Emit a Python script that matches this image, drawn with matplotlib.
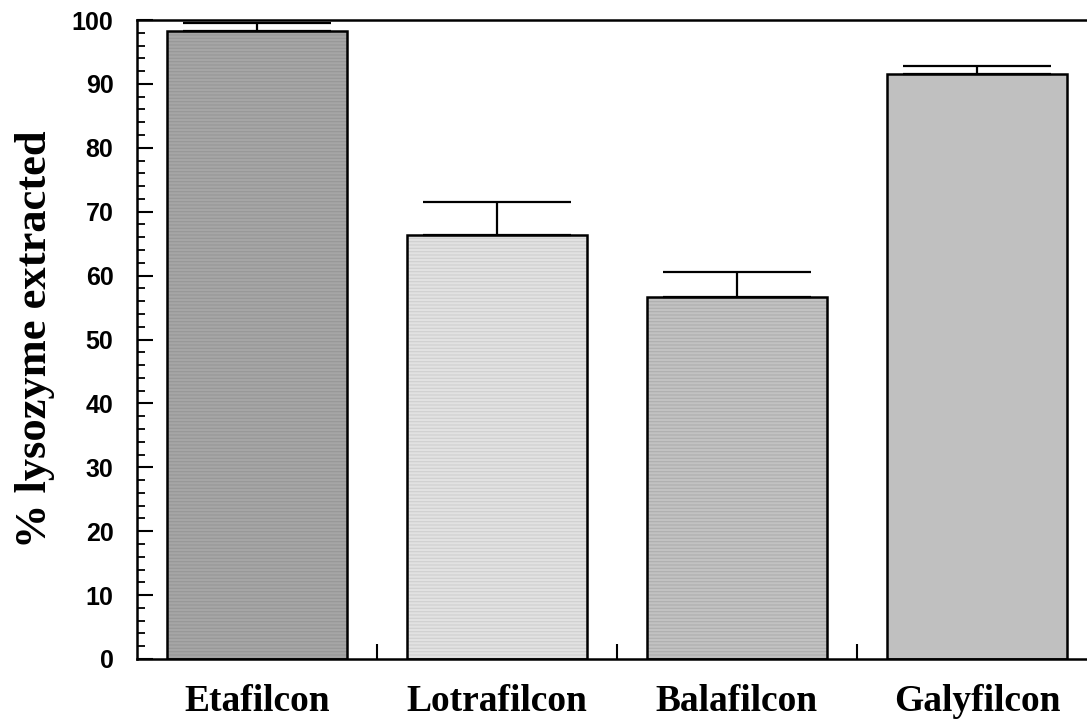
import numpy as np
import matplotlib.pyplot as plt
from matplotlib.ticker import MultipleLocator

# lens materials and % lysozyme extracted (mean, upper SD)
lenses = ['Etafilcon', 'Lotrafilcon', 'Balafilcon', 'Galyfilcon']
extracted = [98.3, 66.4, 56.7, 91.5]
sd = [1.2, 5.1, 3.9, 1.3]

face = ['#a6a6a6', '#e2e2e2', '#c2c2c2', '#c0c0c0']
lines = ['#979797', '#cfcfcf', '#aeaeae', '#c0c0c0']
hatches = ['-----', '-----', '-----', None]

plt.rcParams['hatch.linewidth'] = 0.8
plt.rcParams['font.family'] = 'Liberation Sans'
plt.rcParams['font.weight'] = 'bold'

fig = plt.figure(figsize=(10.87, 7.19), dpi=100)
ax = fig.add_axes([137/1087, 60/719, 950/1087, 639/719])

x = np.arange(len(lenses))
# fill with horizontal line texture, then black outline on top
ax.bar(x, extracted, width=0.75, color=face, edgecolor=lines, linewidth=0,
       hatch=hatches, zorder=2)
ax.bar(x, extracted, width=0.75, fill=False, edgecolor='black', linewidth=1.8, zorder=3)
ax.errorbar(x, extracted, yerr=[np.zeros(len(sd)), sd], fmt='none', ecolor='black',
            elinewidth=1.6, capsize=53, capthick=1.6, zorder=4)

ax.set_xlim(-0.5, -0.5 + 950/240)
ax.set_ylim(0, 100)

ax.spines['right'].set_visible(False)
for s in ['left', 'bottom', 'top']:
    ax.spines[s].set_linewidth(1.8)

ax.yaxis.set_major_locator(MultipleLocator(10))
ax.yaxis.set_minor_locator(MultipleLocator(2))
ax.tick_params(axis='y', which='major', direction='in', length=11.5, width=1.5,
               pad=17, labelsize=18)
ax.tick_params(axis='y', which='minor', direction='in', length=6, width=1.3)

# separators between bars as major x ticks, names on minor ticks
ax.set_xticks([0.5, 1.5, 2.5])
ax.set_xticklabels([])
ax.set_xticks(x, minor=True)
ax.set_xticklabels(lenses, minor=True, fontfamily='Liberation Serif',
                   fontweight='bold', fontsize=27)
ax.tick_params(axis='x', which='major', direction='in', length=11, width=1.5)
ax.tick_params(axis='x', which='minor', length=0, pad=18)

ax.set_ylabel('% lysozyme extracted', fontfamily='Liberation Serif',
              fontweight='bold', fontsize=32, labelpad=12)

plt.savefig('out.png', dpi=100)
